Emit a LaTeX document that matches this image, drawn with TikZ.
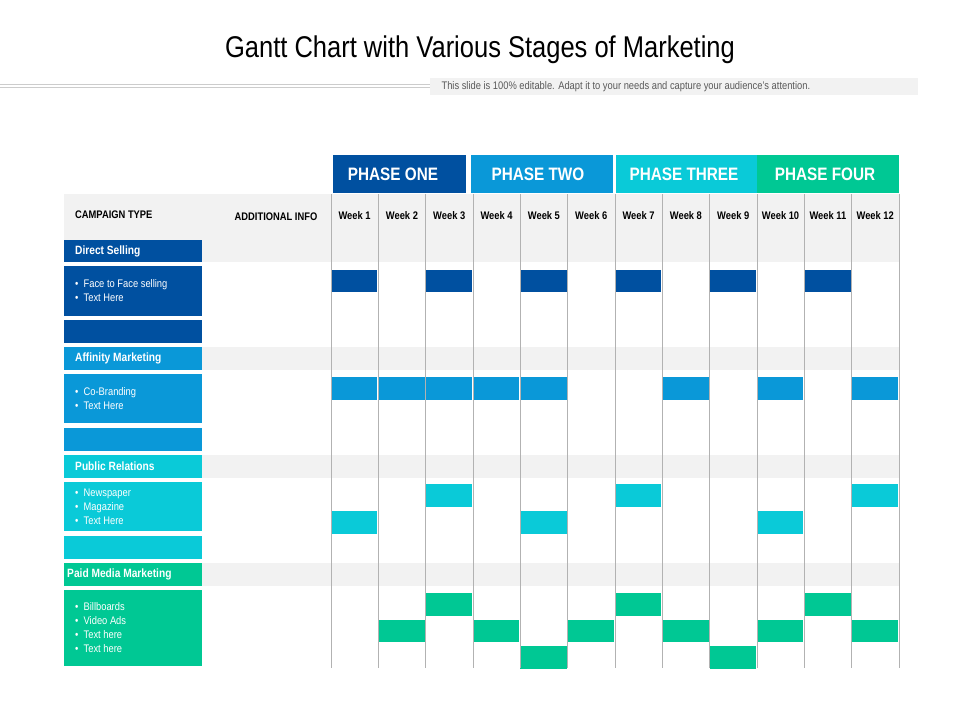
\documentclass[tikz,border=0pt]{standalone}
\usepackage{fontspec}
\setmainfont{Liberation Sans}[FakeStretch=0.85]
\newfontfamily\wide{Liberation Sans}
\definecolor{cA}{HTML}{0050A0}
\definecolor{cB}{HTML}{0A98D8}
\definecolor{cC}{HTML}{0ACAD8}
\definecolor{cD}{HTML}{00C894}
\definecolor{gb}{HTML}{F2F2F2}
\begin{document}
\begin{tikzpicture}[x=1pt,y=-1pt,
  bar/.style={fill=#1,draw=none},
  lbl/.style={text=white,font=\bfseries\fontsize{12}{14}\selectfont,anchor=west,inner sep=0},
  items/.style={text=white,font=\fontsize{11}{14}\selectfont,anchor=west,align=left,inner sep=0},
  phase/.style={text=white,font=\bfseries\fontsize{18}{20}\selectfont},
  wk/.style={font=\bfseries\fontsize{11}{12}\selectfont,inner sep=0}]
\useasboundingbox (0,0) rectangle (960,720);
\node (title) at (480,50) {\fontsize{30}{34}\selectfont Gantt Chart with Various Stages of Marketing};
\draw[gray!40,line width=0.6pt] (0,84) -- (430,84);
\draw[gray!40,line width=0.6pt] (0,87) -- (430,87);
\fill[gb] (430,78) rectangle (918,95);
\node[text=gray!70!black,font=\fontsize{11}{12}\selectfont,anchor=west] (sub) at (438,86.5) {This slide is 100\% editable. Adapt it to your needs and capture your audience's attention.};
% header band and grey rows
\fill[gb] (64,194) rectangle (899,262);
\foreach \y in {347,455,563} \fill[gb] (64,\y) rectangle (899,\y+23);
% phases
\fill[cA] (333,155) rectangle (466,193); \node[phase] (p1) at (393,174) {PHASE ONE};
\fill[cB] (471,155) rectangle (613,193); \node[phase] (p2) at (538,174) {PHASE TWO};
\fill[cC] (616,155) rectangle (757,193); \node[phase] (p3) at (684,174) {PHASE THREE};
\fill[cD] (757,155) rectangle (899,193); \node[phase] (p4) at (825,174) {PHASE FOUR};
% column headers
\node[wk,anchor=west] (ct) at (75,215) {CAMPAIGN TYPE};
\node[wk] (ai) at (276,217) {ADDITIONAL INFO};
\foreach \i in {1,...,12} {
  \pgfmathsetmacro\xa{331+(\i-1)*47.33}
  \node[wk] (w\i) at (\xa+23.6,216) {Week \i};
}
% bars
\foreach \w in {1,3,5,7,9,11} \fill[cA] (331+\w*47.33-47.33,270) rectangle +(46.3,22);
\foreach \w in {1,2,3,4,5,8,10,12} \fill[cB] (331+\w*47.33-47.33,377) rectangle +(46.3,23);
\foreach \w in {3,7,12} \fill[cC] (331+\w*47.33-47.33,484) rectangle +(46.3,23);
\foreach \w in {1,5,10} \fill[cC] (331+\w*47.33-47.33,511) rectangle +(46.3,23);
\foreach \w in {3,7,11} \fill[cD] (331+\w*47.33-47.33,593) rectangle +(46.3,23);
\foreach \w in {2,4,6,8,10,12} \fill[cD] (331+\w*47.33-47.33,620) rectangle +(46.3,22);
\foreach \w in {5,9} \fill[cD] (331+\w*47.33-47.33,646) rectangle +(46.3,23);
% grid lines
\foreach \i in {0,...,12} \draw[gray!60,line width=0.6pt] (331+\i*47.33,194) -- (331+\i*47.33,668);
% left boxes
\fill[cA] (64,240) rectangle (202,262); \node[lbl] (l1) at (75,251) {Direct Selling};
\fill[cA] (64,266) rectangle (202,316); \node[items] (i1) at (75,291) {•\ \ Face to Face selling\\•\ \ Text Here};
\fill[cA] (64,320) rectangle (202,343);
\fill[cB] (64,347) rectangle (202,370); \node[lbl] (l2) at (75,358.5) {Affinity Marketing};
\fill[cB] (64,374) rectangle (202,423); \node[items] (i2) at (75,398.5) {•\ \ Co-Branding\\•\ \ Text Here};
\fill[cB] (64,428) rectangle (202,451);
\fill[cC] (64,455) rectangle (202,478); \node[lbl] (l3) at (75,466.5) {Public Relations};
\fill[cC] (64,482) rectangle (202,531); \node[items] (i3) at (75,506.5) {•\ \ Newspaper\\•\ \ Magazine\\•\ \ Text Here};
\fill[cC] (64,536) rectangle (202,559);
\fill[cD] (64,563) rectangle (202,586); \node[lbl] (l4) at (67,574.5) {Paid Media Marketing};
\fill[cD] (64,590) rectangle (202,666); \node[items] (i4) at (75,628) {•\ \ Billboards\\•\ \ Video Ads\\•\ \ Text here\\•\ \ Text here};
\end{tikzpicture}
\end{document}
